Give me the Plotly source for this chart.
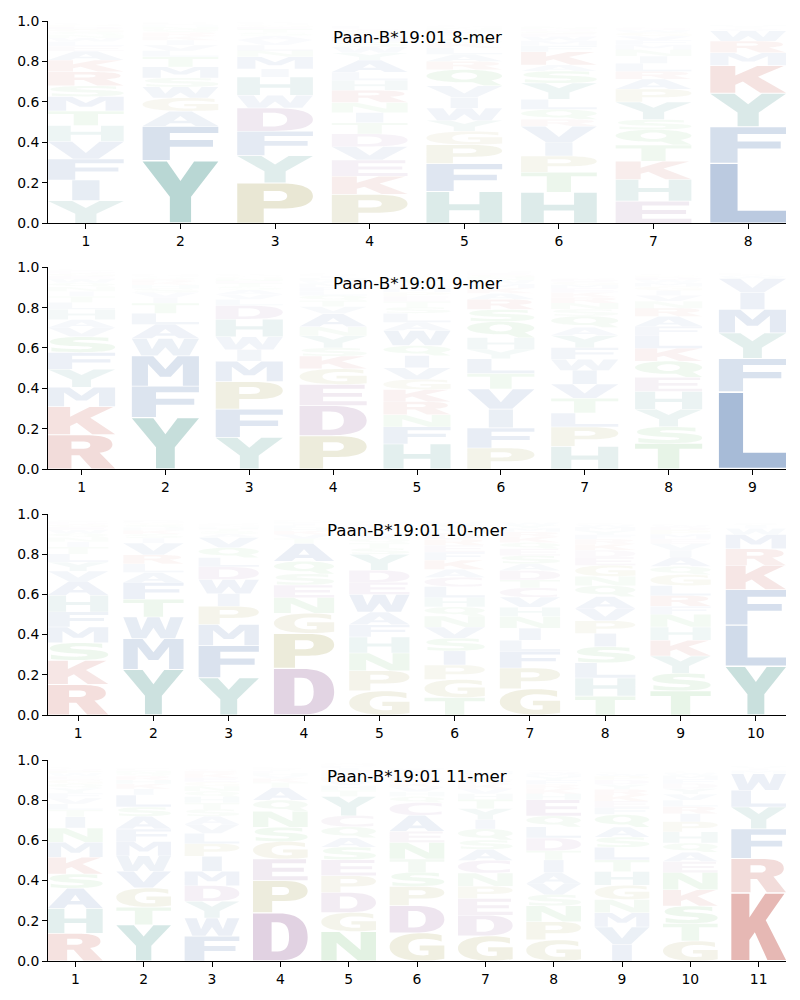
import math
import plotly.graph_objects as go

# ---------------- data (letter, frequency), stacked bottom -> top ----------------
TITLES = ["Paan-B*19:01 8-mer", "Paan-B*19:01 9-mer", "Paan-B*19:01 10-mer", "Paan-B*19:01 11-mer"]

MER8 = [
    [("Y", .112), ("I", .102), ("F", .104), ("V", .087), ("H", .079), ("T", .071), ("M", .071), ("S", .054), ("R", .069), ("K", .058), ("A", .044),
     ("E", .025), ("L", .022), ("W", .018), ("N", .016), ("Q", .014), ("G", .013), ("D", .012), ("P", .010), ("C", .008)],
    [("Y", .310), ("F", .170), ("A", .074), ("G", .066), ("W", .054), ("S", .045), ("M", .054), ("T", .050),
     ("L", .030), ("V", .028), ("I", .024), ("K", .020), ("R", .018), ("Q", .015), ("N", .012), ("H", .010), ("E", .008), ("D", .005)],
    [("P", .200), ("Y", .135), ("F", .120), ("D", .115), ("W", .063), ("H", .090), ("I", .040), ("M", .060),
     ("N", .030), ("L", .028), ("V", .025), ("A", .020), ("S", .018), ("T", .015), ("E", .012), ("G", .010), ("Q", .008), ("K", .005)],
    [("P", .143), ("K", .090), ("E", .080), ("V", .066), ("D", .063), ("T", .055), ("I", .050), ("N", .050), ("R", .060), ("H", .050), ("L", .040), ("A", .060), ("Y", .035),
     ("W", .030), ("S", .025), ("M", .025), ("Q", .020), ("G", .015), ("C", .010), ("F", .010)],
    [("H", .157), ("F", .138), ("P", .094), ("G", .066), ("Y", .054), ("W", .060), ("I", .054), ("V", .057), ("Q", .080), ("R", .040),
     ("A", .035), ("L", .032), ("K", .024), ("S", .020), ("T", .018), ("E", .015), ("D", .012), ("N", .010), ("M", .008), ("C", .005)],
    [("H", .153), ("T", .100), ("P", .080), ("I", .067), ("V", .080), ("R", .033), ("Q", .050), ("L", .050), ("Y", .080), ("S", .060), ("A", .030), ("K", .065),
     ("F", .030), ("M", .025), ("W", .020), ("E", .015), ("G", .012), ("D", .010), ("N", .010), ("C", .006)],
    [("E", .110), ("H", .107), ("K", .090), ("T", .080), ("Q", .076), ("S", .050), ("Y", .087), ("P", .063), ("A", .050), ("R", .038),
     ("L", .040), ("I", .035), ("N", .032), ("M", .025), ("F", .022), ("V", .020), ("G", .018), ("W", .012), ("D", .010), ("C", .006)],
    [("L", .297), ("F", .180), ("Y", .166), ("K", .137), ("M", .063), ("R", .058), ("W", .050),
     ("V", .010), ("I", .008), ("A", .006), ("H", .005), ("E", .004), ("Q", .003), ("S", .003), ("T", .002), ("N", .002), ("G", .002), ("P", .002), ("D", .001), ("C", .001)],
]

MER9 = [
    [("R", .170), ("K", .140), ("M", .095), ("Y", .090), ("F", .083), ("S", .078), ("V", .045), ("A", .040), ("H", .050),
     ("L", .035), ("T", .030), ("I", .025), ("N", .022), ("Q", .020), ("W", .018), ("E", .015), ("G", .013), ("D", .010), ("P", .008), ("C", .005)],
    [("Y", .256), ("F", .155), ("M", .150), ("W", .086), ("A", .070), ("L", .055), ("T", .050),
     ("I", .028), ("V", .025), ("S", .020), ("H", .018), ("K", .015), ("R", .012), ("Q", .010), ("G", .008), ("N", .006), ("E", .004), ("D", .002), ("P", .002)],
    [("Y", .157), ("F", .140), ("P", .137), ("M", .100), ("I", .058), ("W", .063), ("H", .088), ("D", .068),
     ("L", .030), ("V", .025), ("A", .022), ("S", .018), ("T", .015), ("E", .012), ("N", .012), ("G", .010), ("Q", .008), ("K", .005), ("R", .003)],
    [("P", .165), ("D", .150), ("E", .104), ("G", .078), ("K", .063), ("S", .040), ("Y", .060), ("N", .045), ("A", .065),
     ("V", .035), ("T", .030), ("Q", .025), ("L", .022), ("F", .020), ("M", .018), ("W", .015), ("H", .012), ("I", .010), ("R", .008), ("C", .005)],
    [("H", .124), ("F", .085), ("N", .060), ("R", .065), ("K", .060), ("G", .050), ("V", .058), ("I", .060), ("Q", .050), ("W", .075),
     ("A", .040), ("L", .045), ("S", .030), ("T", .028), ("E", .025), ("P", .022), ("M", .020), ("D", .015), ("Y", .030), ("C", .006)],
    [("P", .104), ("F", .100), ("I", .093), ("V", .100), ("T", .076), ("L", .074), ("Y", .046), ("H", .058), ("Q", .080), ("S", .060), ("R", .050),
     ("A", .030), ("K", .025), ("M", .022), ("W", .018), ("N", .015), ("G", .012), ("E", .010), ("D", .008), ("C", .005)],
    [("H", .112), ("P", .096), ("L", .070), ("T", .073), ("V", .070), ("I", .068), ("W", .055), ("F", .058), ("Y", .060), ("A", .040), ("Q", .056),
     ("S", .035), ("N", .030), ("R", .028), ("K", .025), ("E", .020), ("M", .018), ("G", .015), ("D", .012), ("C", .006)],
    [("T", .127), ("S", .083), ("Y", .086), ("H", .088), ("E", .071), ("Q", .080), ("K", .063), ("L", .063), ("F", .046), ("A", .050),
     ("R", .040), ("N", .035), ("V", .028), ("I", .025), ("G", .020), ("M", .018), ("W", .015), ("D", .012), ("P", .010), ("C", .006)],
    [("L", .383), ("F", .165), ("Y", .127), ("M", .116), ("I", .083), ("V", .070),
     ("W", .012), ("A", .008), ("K", .005), ("H", .004), ("R", .003), ("T", .002), ("Q", .002), ("S", .002), ("C", .001)],
]

MER10 = [
    [("R", .152), ("K", .120), ("S", .088), ("M", .078), ("F", .075), ("H", .083), ("A", .070), ("V", .050), ("Y", .045),
     ("L", .040), ("T", .035), ("I", .025), ("N", .022), ("Q", .020), ("W", .018), ("E", .015), ("G", .012), ("D", .010), ("P", .008), ("C", .005)],
    [("Y", .227), ("M", .153), ("W", .108), ("T", .088), ("F", .083), ("A", .050), ("L", .043), ("R", .045), ("V", .058),
     ("I", .025), ("S", .020), ("K", .018), ("H", .015), ("Q", .012), ("G", .010), ("N", .008), ("E", .006), ("D", .004), ("P", .003), ("C", .002)],
    [("Y", .186), ("F", .160), ("M", .104), ("P", .091), ("I", .063), ("W", .070), ("D", .063), ("L", .046), ("Q", .050), ("V", .050),
     ("A", .018), ("S", .014), ("T", .012), ("H", .010), ("N", .008), ("E", .006), ("G", .005), ("K", .004), ("R", .003)],
    [("D", .232), ("P", .174), ("G", .100), ("N", .078), ("E", .063), ("S", .055), ("Q", .063), ("A", .088),
     ("T", .025), ("V", .020), ("K", .018), ("H", .015), ("L", .012), ("I", .010), ("F", .008), ("M", .006), ("R", .005), ("Y", .004), ("W", .003), ("C", .002)],
    [("G", .120), ("P", .100), ("N", .088), ("H", .080), ("F", .061), ("A", .063), ("W", .088), ("E", .060), ("D", .060), ("Y", .080),
     ("S", .030), ("T", .025), ("Q", .022), ("V", .020), ("L", .018), ("K", .015), ("I", .012), ("R", .010), ("M", .008), ("C", .005)],
    [("T", .087), ("G", .090), ("P", .072), ("I", .070), ("S", .063), ("V", .055), ("N", .055), ("Q", .046), ("H", .046), ("L", .055), ("C", .046), ("A", .040), ("K", .045),
     ("F", .040), ("E", .035), ("R", .030), ("D", .030), ("M", .022), ("Y", .020), ("W", .015)],
    [("G", .130), ("P", .104), ("F", .083), ("L", .055), ("I", .060), ("N", .058), ("H", .046), ("V", .050), ("C", .046), ("T", .040), ("D", .046), ("A", .035),
     ("S", .040), ("E", .035), ("Q", .030), ("K", .028), ("R", .025), ("M", .018), ("Y", .016), ("W", .012)],
    [("T", .094), ("H", .090), ("L", .076), ("S", .080), ("I", .066), ("P", .063), ("V", .060), ("A", .060), ("Q", .055), ("N", .046), ("G", .055),
     ("E", .040), ("D", .035), ("K", .030), ("R", .025), ("F", .022), ("Y", .020), ("M", .018), ("W", .012), ("C", .008)],
    [("T", .120), ("S", .088), ("Y", .086), ("K", .078), ("H", .066), ("N", .063), ("F", .040), ("R", .053), ("L", .050), ("G", .055), ("Q", .040), ("A", .046),
     ("I", .035), ("V", .032), ("E", .025), ("M", .022), ("P", .020), ("D", .015), ("W", .010), ("C", .006)],
    [("Y", .243), ("L", .204), ("F", .177), ("K", .120), ("R", .083), ("M", .071),
     ("W", .030), ("I", .015), ("V", .008), ("A", .005), ("H", .004), ("T", .003), ("S", .003)],
]

MER11 = [
    [("R", .138), ("H", .124), ("A", .100), ("S", .071), ("K", .083), ("M", .075), ("N", .071), ("I", .055),
     ("T", .035), ("L", .030), ("V", .028), ("F", .025), ("Y", .025), ("Q", .022), ("G", .020), ("E", .018), ("W", .015), ("P", .012), ("D", .010), ("C", .008)],
    [("Y", .180), ("T", .088), ("G", .096), ("V", .083), ("W", .076), ("M", .071), ("F", .063), ("A", .063), ("S", .046), ("L", .060),
     ("I", .030), ("K", .025), ("H", .020), ("R", .018), ("Q", .014), ("N", .012), ("E", .008), ("P", .006), ("D", .004), ("C", .003)],
    [("F", .124), ("W", .090), ("Y", .083), ("D", .078), ("M", .071), ("I", .075), ("P", .063), ("L", .051), ("V", .045), ("A", .040),
     ("S", .035), ("T", .032), ("H", .030), ("Q", .028), ("N", .025), ("G", .022), ("E", .020), ("K", .018), ("R", .015), ("C", .010)],
    [("D", .240), ("P", .160), ("E", .108), ("G", .086), ("S", .071), ("N", .080), ("Q", .055), ("A", .063),
     ("T", .025), ("K", .020), ("V", .015), ("H", .012), ("L", .010), ("I", .008), ("R", .006), ("F", .005), ("Y", .004), ("M", .003)],
    [("N", .146), ("G", .095), ("D", .100), ("P", .083), ("E", .080), ("S", .063), ("A", .046), ("Q", .055), ("C", .055), ("Y", .096),
     ("T", .030), ("H", .025), ("V", .022), ("K", .020), ("L", .018), ("R", .015), ("I", .012), ("F", .010), ("M", .008), ("W", .005)],
    [("G", .140), ("D", .136), ("P", .095), ("S", .070), ("T", .066), ("N", .083), ("E", .055), ("A", .080), ("C", .063),
     ("Q", .030), ("H", .025), ("V", .022), ("K", .020), ("R", .018), ("L", .016), ("Y", .014), ("I", .012), ("F", .010), ("M", .006)],
    [("G", .125), ("D", .103), ("E", .083), ("P", .061), ("N", .066), ("C", .063), ("A", .055), ("S", .046), ("Q", .055), ("I", .046), ("Y", .055), ("T", .046),
     ("H", .028), ("V", .025), ("K", .022), ("R", .020), ("L", .018), ("F", .015), ("M", .012), ("W", .008)],
    [("G", .105), ("P", .090), ("N", .080), ("S", .055), ("V", .055), ("A", .055), ("I", .063), ("T", .046), ("D", .063), ("L", .055), ("Q", .055), ("E", .080),
     ("H", .030), ("K", .025), ("R", .022), ("F", .020), ("Y", .018), ("M", .015), ("W", .010), ("C", .008)],
    [("I", .083), ("V", .086), ("M", .071), ("N", .066), ("G", .071), ("H", .068), ("T", .058), ("L", .063), ("S", .050), ("A", .050), ("Q", .063),
     ("F", .035), ("E", .032), ("K", .030), ("R", .028), ("Y", .025), ("D", .022), ("P", .018), ("W", .012), ("C", .008)],
    [("G", .100), ("T", .086), ("S", .088), ("K", .080), ("N", .086), ("E", .055), ("A", .046), ("Q", .046), ("H", .055), ("P", .051), ("I", .040),
     ("R", .035), ("L", .032), ("V", .030), ("Y", .028), ("D", .025), ("F", .022), ("M", .018), ("W", .012), ("C", .008)],
    [("K", .340), ("R", .170), ("F", .148), ("Y", .108), ("L", .083), ("W", .083),
     ("M", .015), ("I", .010), ("V", .008), ("H", .005), ("A", .004), ("T", .003)],
]

LOGOS = [MER8, MER9, MER10, MER11]

# ---------------- styling ----------------
BASE = {
    "blue": (55, 100, 165), "teal": (60, 142, 134), "red": (190, 75, 65),
    "purple": (145, 92, 151), "olive": (159, 153, 70), "green": (90, 180, 90),
}
GROUP = {}
for _l in "AVLIMFW": GROUP[_l] = "blue"
for _l in "YH": GROUP[_l] = "teal"
for _l in "KR": GROUP[_l] = "red"
for _l in "DEC": GROUP[_l] = "purple"
for _l in "PG": GROUP[_l] = "olive"
for _l in "STNQ": GROUP[_l] = "green"


def letter_color(letter, h):
    r, g, b = BASE[GROUP[letter]]
    a = min(1.0, 1.15 * max(h, 0.0))
    return f"rgba({r},{g},{b},{a:.3f})"


# ---------------- glyph outlines in a unit box ----------------
def ellipse(cx, cy, rx, ry):
    k = 0.5523
    return [(cx, cy - ry),
            ((cx + rx * k, cy - ry), (cx + rx, cy - ry * k), (cx + rx, cy)),
            ((cx + rx, cy + ry * k), (cx + rx * k, cy + ry), (cx, cy + ry)),
            ((cx - rx * k, cy + ry), (cx - rx, cy + ry * k), (cx - rx, cy)),
            ((cx - rx, cy - ry * k), (cx - rx * k, cy - ry), (cx, cy - ry))]


GLYPHS = {
    "A": ([[(0, 0), (0.3, 0), (0.36, 0.18), (0.64, 0.18), (0.7, 0), (1, 0), (0.65, 1), (0.35, 1)]],
          [[(0.41, 0.36), (0.59, 0.36), (0.5, 0.68)]]),
    "C": ([[(0.95, 0.94), ((0.84, 0.99), (0.72, 1), (0.6, 1)), ((0.22, 1), (0, 0.8), (0, 0.5)),
            ((0, 0.2), (0.22, 0), (0.6, 0)), ((0.72, 0), (0.84, 0.01), (0.95, 0.06)), (0.95, 0.3),
            ((0.85, 0.23), (0.75, 0.2), (0.64, 0.2)), ((0.45, 0.2), (0.34, 0.3), (0.34, 0.5)),
            ((0.34, 0.7), (0.45, 0.8), (0.64, 0.8)), ((0.75, 0.8), (0.85, 0.77), (0.95, 0.7))]], []),
    "D": ([[(0, 0), (0, 1), (0.48, 1), ((0.84, 1), (1, 0.8), (1, 0.5)), ((1, 0.2), (0.84, 0), (0.48, 0))]],
          [[(0.34, 0.19), (0.45, 0.19), ((0.59, 0.19), (0.66, 0.29), (0.66, 0.5)),
            ((0.66, 0.71), (0.59, 0.81), (0.45, 0.81)), (0.34, 0.81)]]),
    "E": ([[(0, 0), (1, 0), (1, 0.19), (0.35, 0.19), (0.35, 0.41), (0.93, 0.41), (0.93, 0.6), (0.35, 0.6),
            (0.35, 0.81), (0.97, 0.81), (0.97, 1), (0, 1)]], []),
    "F": ([[(0, 0), (0.36, 0), (0.36, 0.4), (0.93, 0.4), (0.93, 0.6), (0.36, 0.6), (0.36, 0.81), (1, 0.81),
            (1, 1), (0, 1)]], []),
    "G": ([[(1, 0.07), ((0.88, 0.02), (0.75, 0), (0.6, 0)), ((0.22, 0), (0, 0.2), (0, 0.5)),
            ((0, 0.8), (0.22, 1), (0.6, 1)), ((0.72, 1), (0.84, 0.98), (0.95, 0.93)), (0.95, 0.7),
            ((0.85, 0.77), (0.75, 0.8), (0.63, 0.8)), ((0.44, 0.8), (0.34, 0.7), (0.34, 0.5)),
            ((0.34, 0.3), (0.44, 0.19), (0.62, 0.19)), ((0.66, 0.19), (0.69, 0.2), (0.71, 0.21)),
            (0.71, 0.37), (0.55, 0.37), (0.55, 0.55), (1, 0.55)]], []),
    "H": ([[(0, 0), (0, 1), (0.3, 1), (0.3, 0.6), (0.7, 0.6), (0.7, 1), (1, 1), (1, 0), (0.7, 0), (0.7, 0.41),
            (0.3, 0.41), (0.3, 0)]], []),
    "I": ([[(0.32, 0), (0.68, 0), (0.68, 1), (0.32, 1)]], []),
    "K": ([[(0, 0), (0.33, 0), (0.33, 0.3), (0.43, 0.42), (0.66, 0), (1, 0), (0.63, 0.6), (0.97, 1), (0.62, 1),
            (0.33, 0.64), (0.33, 1), (0, 1)]], []),
    "L": ([[(0, 0), (1, 0), (1, 0.2), (0.36, 0.2), (0.36, 1), (0, 1)]], []),
    "M": ([[(0, 0), (0, 1), (0.32, 1), (0.5, 0.56), (0.68, 1), (1, 1), (1, 0), (0.76, 0), (0.76, 0.74),
            (0.58, 0.3), (0.42, 0.3), (0.24, 0.74), (0.24, 0)]], []),
    "N": ([[(0, 0), (0, 1), (0.33, 1), (0.72, 0.37), (0.72, 1), (1, 1), (1, 0), (0.67, 0), (0.28, 0.63),
            (0.28, 0)]], []),
    "P": ([[(0, 0), (0, 1), (0.58, 1), ((0.88, 1), (1, 0.86), (1, 0.68)), ((1, 0.5), (0.88, 0.36), (0.58, 0.36)),
            (0.35, 0.36), (0.35, 0)]],
          [[(0.35, 0.55), (0.52, 0.55), ((0.62, 0.55), (0.66, 0.6), (0.66, 0.68)),
            ((0.66, 0.76), (0.62, 0.81), (0.52, 0.81)), (0.35, 0.81)]]),
    "Q": ([ellipse(0.5, 0.6, 0.5, 0.4), [(0.6, 0.22), (0.76, 0), (1, 0), (0.86, 0.32)]],
          [ellipse(0.5, 0.6, 0.17, 0.22)]),
    "R": ([[(0, 0), (0, 1), (0.56, 1), ((0.86, 1), (0.96, 0.88), (0.96, 0.72)), ((0.96, 0.6), (0.9, 0.51), (0.77, 0.47)),
            (1, 0), (0.65, 0), (0.47, 0.4), (0.35, 0.4), (0.35, 0)]],
          [[(0.35, 0.59), (0.5, 0.59), ((0.6, 0.59), (0.63, 0.64), (0.63, 0.7)),
            ((0.63, 0.77), (0.6, 0.81), (0.5, 0.81)), (0.35, 0.81)]]),
    "S": ([[(0.9, 0.95), ((0.78, 0.99), (0.65, 1), (0.52, 1)), ((0.2, 1), (0.03, 0.87), (0.03, 0.69)),
            ((0.03, 0.52), (0.16, 0.45), (0.42, 0.4)), (0.55, 0.37), ((0.63, 0.35), (0.66, 0.33), (0.66, 0.29)),
            ((0.66, 0.23), (0.59, 0.2), (0.48, 0.2)), ((0.33, 0.2), (0.18, 0.24), (0.05, 0.31)), (0.05, 0.06),
            ((0.19, 0.02), (0.34, 0), (0.48, 0)), ((0.83, 0), (1, 0.12), (1, 0.32)),
            ((1, 0.5), (0.88, 0.57), (0.6, 0.62)), (0.47, 0.65), ((0.4, 0.67), (0.37, 0.69), (0.37, 0.72)),
            ((0.37, 0.77), (0.43, 0.8), (0.53, 0.8)), ((0.66, 0.8), (0.78, 0.77), (0.9, 0.71))]], []),
    "T": ([[(0, 1), (1, 1), (1, 0.8), (0.66, 0.8), (0.66, 0), (0.34, 0), (0.34, 0.8), (0, 0.8)]], []),
    "V": ([[(0, 1), (0.32, 1), (0.5, 0.33), (0.68, 1), (1, 1), (0.67, 0), (0.33, 0)]], []),
    "W": ([[(0, 1), (0.22, 1), (0.3, 0.38), (0.4, 1), (0.6, 1), (0.7, 0.38), (0.78, 1), (1, 1), (0.86, 0),
            (0.62, 0), (0.5, 0.5), (0.38, 0), (0.14, 0)]], []),
    "Y": ([[(0, 1), (0.32, 1), (0.5, 0.68), (0.68, 1), (1, 1), (0.64, 0.42), (0.64, 0), (0.36, 0), (0.36, 0.42)]], []),
}


def is_curve(seg):
    return isinstance(seg[0], tuple)


def signed_area(c):
    pts = [c[0]]
    for s in c[1:]:
        if is_curve(s):
            pts.extend(s)
        else:
            pts.append(s)
    a = 0.0
    for i in range(len(pts)):
        x1, y1 = pts[i]
        x2, y2 = pts[(i + 1) % len(pts)]
        a += x1 * y2 - x2 * y1
    return a / 2


def reverse(c):
    segs = list(c[1:])
    last = segs[-1][2] if is_curve(segs[-1]) else segs[-1]
    if last != c[0]:
        segs.append(c[0])
    ends = [c[0]] + [s[2] if is_curve(s) else s for s in segs]
    out = [ends[-1]]
    for i in range(len(segs) - 1, -1, -1):
        s = segs[i]
        prev = ends[i]
        if is_curve(s):
            out.append((s[1], s[0], prev))
        else:
            out.append(prev)
    return out


def oriented(c, ccw):
    return c if (signed_area(c) > 0) == ccw else reverse(c)


GLYPH_CONTOURS = {}
for _k, (_outer, _holes) in GLYPHS.items():
    GLYPH_CONTOURS[_k] = [oriented(c, True) for c in _outer] + [oriented(c, False) for c in _holes]


def glyph_path(letter, x0, w, y0, h):
    def T(p):
        return f"{x0 + w * p[0]:.4f},{y0 + h * p[1]:.5f}"
    parts = []
    for c in GLYPH_CONTOURS[letter]:
        parts.append("M" + T(c[0]))
        for s in c[1:]:
            if is_curve(s):
                parts.append("C" + T(s[0]) + " " + T(s[1]) + " " + T(s[2]))
            else:
                parts.append("L" + T(s))
        parts.append("Z")
    return " ".join(parts)


# ---------------- figure ----------------
W, H = 800, 1000
M_L, M_R, M_T, M_B = 47.7, 14.3, 21, 39
ROW_PX = [(21, 223.3), (267.3, 469), (514, 715), (760, 961)]
PLOT_H = H - M_T - M_B


def dom(top, bot):
    return [1 - (bot - M_T) / PLOT_H, 1 - (top - M_T) / PLOT_H]


LETTER_W = 0.8
VPAD = 0.03
FONT = "DejaVu Sans, Liberation Sans, sans-serif"

fig = go.Figure()
shapes = []
annotations = []
layout_axes = {}

for k, logo in enumerate(LOGOS):
    sfx = "" if k == 0 else str(k + 1)
    xa, ya = "x" + sfx, "y" + sfx
    n = len(logo)
    fig.add_trace(go.Scatter(x=[None], y=[None], xaxis=xa, yaxis=ya, showlegend=False, hoverinfo="skip"))
    for i, column in enumerate(logo):
        pos = i + 1
        base = 0.0
        for letter, val in column:
            y0 = base + val * VPAD / 2
            hh = val * (1 - VPAD)
            shapes.append(dict(
                type="path", xref=xa, yref=ya, layer="below",
                path=glyph_path(letter, pos - LETTER_W / 2, LETTER_W, y0, hh),
                fillcolor=letter_color(letter, val), line=dict(width=0), fillrule="nonzero",
            ))
            base += val
    axis_common = dict(showline=True, linecolor="black", linewidth=1.1, ticks="outside", ticklen=4.9,
                       tickwidth=1.1, tickcolor="black", showgrid=False, zeroline=False,
                       tickfont=dict(family=FONT, size=13.9, color="black"), mirror=False)
    layout_axes["xaxis" + sfx] = dict(axis_common, domain=[0, 1], anchor=ya, range=[0.6, n + 0.4],
                                      tickvals=list(range(1, n + 1)), ticktext=[str(v) for v in range(1, n + 1)])
    layout_axes["yaxis" + sfx] = dict(axis_common, domain=dom(*ROW_PX[k]), anchor=xa, range=[0, 1],
                                      tickvals=[0, 0.2, 0.4, 0.6, 0.8, 1.0],
                                      ticktext=["0.0", "0.2", "0.4", "0.6", "0.8", "1.0"])
    annotations.append(dict(text=TITLES[k], xref=xa + " domain", yref=ya + " domain", x=0.5, y=1,
                            xanchor="center", yanchor="top", yshift=-4, showarrow=False,
                            font=dict(family=FONT, size=16.7, color="black")))

fig.update_layout(
    width=W, height=H, margin=dict(l=M_L, r=M_R, t=M_T, b=M_B),
    paper_bgcolor="white", plot_bgcolor="white", showlegend=False,
    shapes=shapes, annotations=annotations, **layout_axes,
)

fig.write_html("out.html", config={"displayModeBar": False},
               post_script="document.body.style.margin='0px';")
